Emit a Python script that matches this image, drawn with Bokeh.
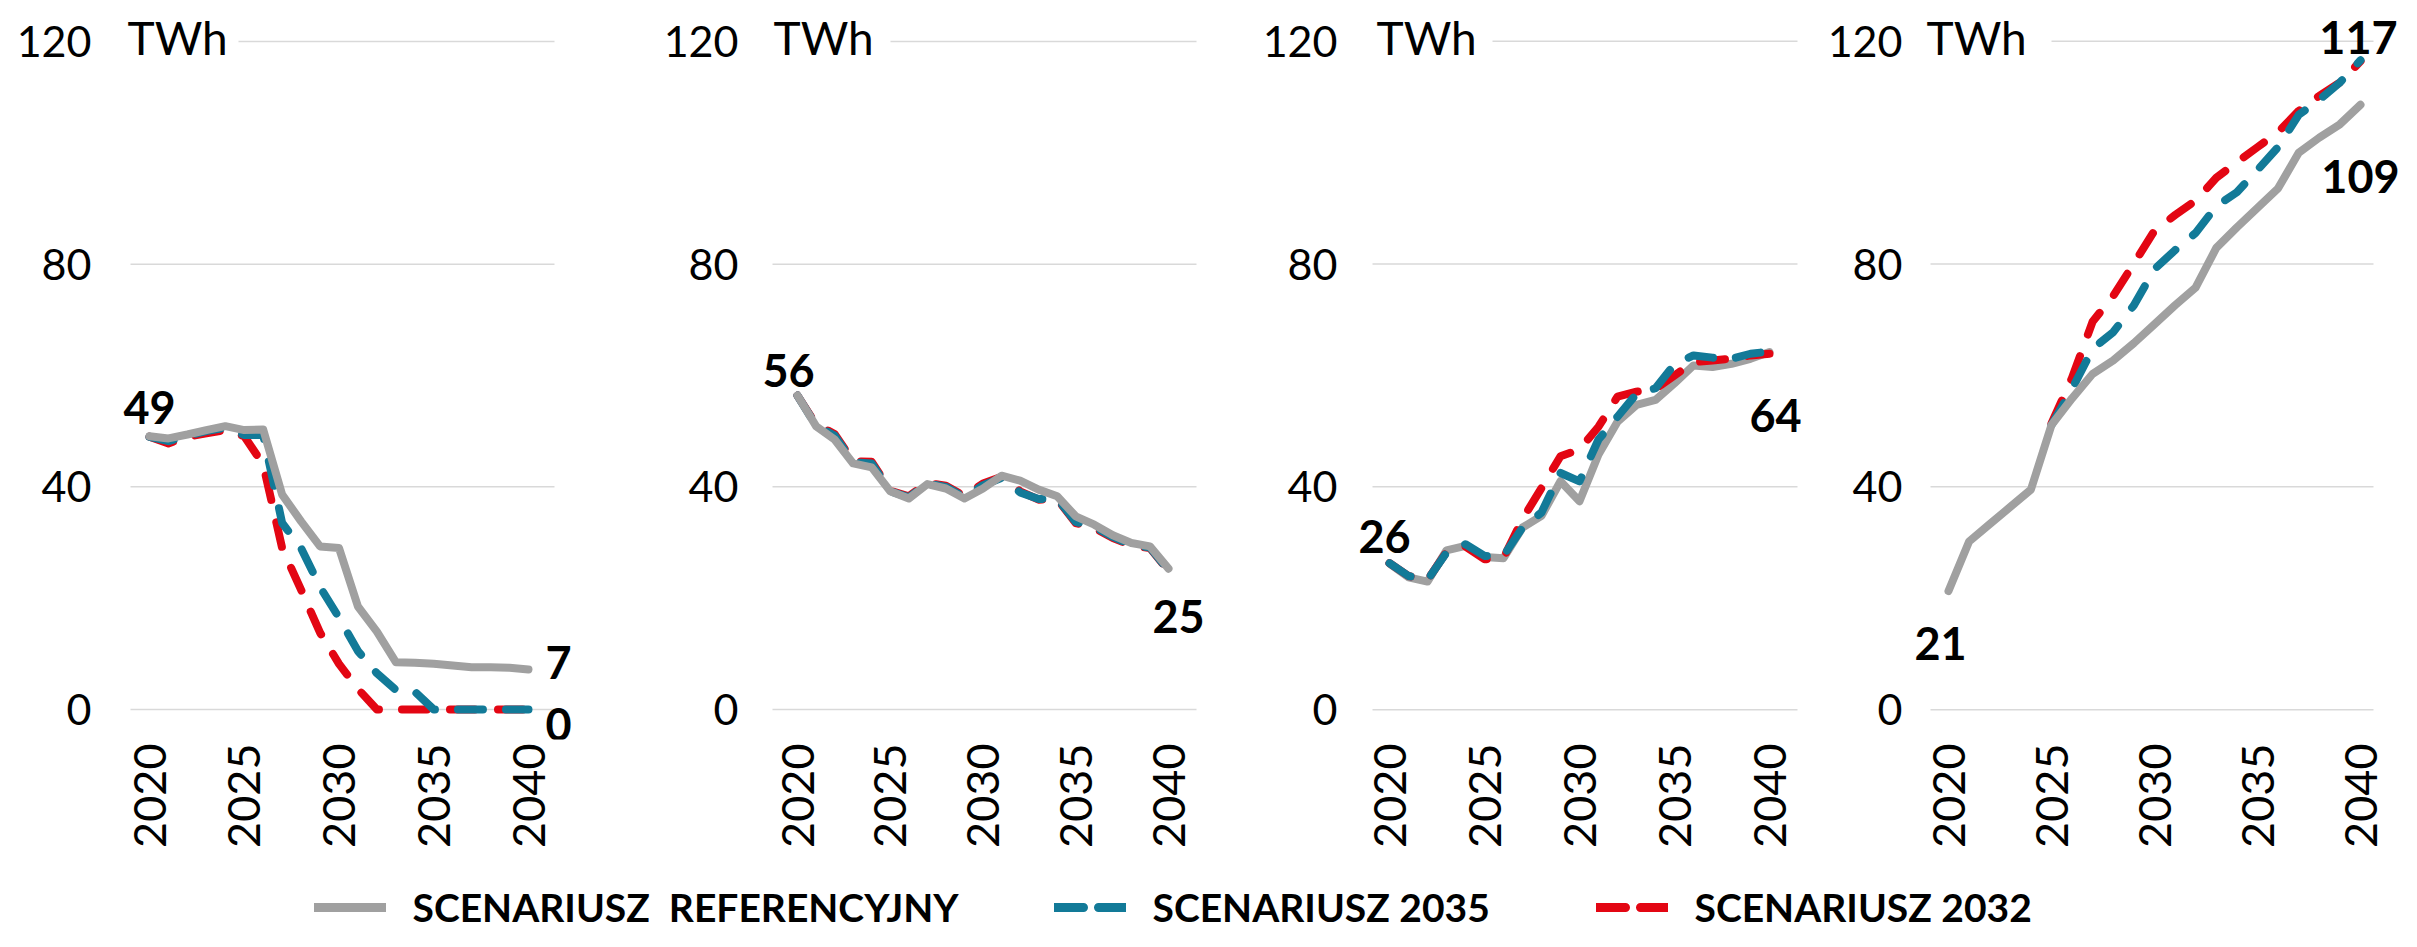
import math
from bokeh.plotting import figure
from bokeh.models import Range1d, FixedTicker, Label, Legend, LegendItem
from bokeh.layouts import column, row
from bokeh.embed import file_html
from bokeh.resources import INLINE

nan = float("nan")

years = list(range(2020, 2041))
x_ticks = [2020, 2025, 2030, 2035, 2040]
y_ticks = [0, 40, 80, 120]
unit = "TWh"
series_names = ["SCENARIUSZ  REFERENCYJNY", "SCENARIUSZ 2035", "SCENARIUSZ 2032"]

# panel 1
ref1 = [49.1, 48.7, 49.4, 50.2, 50.9, 50.2, 50.3, 38.6, 33.8, 29.3, 29.0, 18.5, 14.0, 8.5, 8.4, 8.2, 7.9, 7.6, 7.6, 7.5, 7.2]
s35_1 = [49.0, 48.2, 49.2, 50.0, 50.6, 49.3, 49.3, 33.5, 29.0, 22.0, 16.5, 10.5, 6.5, 3.5, 3.2, 0, 0, 0, 0, 0, 0]
s32_1 = [49.0, 47.8, 49.0, 49.6, 50.2, 49.1, 44.0, 29.0, 21.5, 13.8, 8.2, 3.7, 0, 0, 0, 0, 0, 0, 0, 0, 0]
# panel 2
ref2 = [56.4, 50.9, 48.5, 44.2, 43.5, 39.2, 37.9, 40.5, 39.7, 37.9, 39.7, 42.0, 41.1, 39.5, 38.3, 34.7, 33.2, 31.3, 29.9, 29.3, 25.3]
s35_2 = [56.4, 51.0, 49.2, 44.4, 44.2, 39.2, 38.1, 40.6, 40.0, 38.1, 40.3, 41.6, 39.0, 37.8, 37.9, 33.7, 32.8, 31.0, 29.6, 29.1, 25.0]
s32_2 = [56.4, 51.2, 49.5, 44.6, 44.5, 39.3, 38.3, 40.7, 40.2, 38.3, 40.6, 41.8, 39.2, 37.7, 37.8, 33.5, 32.6, 30.8, 29.5, 29.0, 24.9]
# panel 3
ref3 = [26.25, 23.75, 23.0, 28.6, 29.4, 27.4, 27.2, 32.7, 34.8, 41.0, 37.4, 45.8, 51.7, 54.7, 55.6, 58.6, 61.8, 61.5, 62.1, 63.0, 64.2]
s35_3 = [26.3, 24.0, 23.3, 28.2, 29.7, 27.6, 27.6, 32.7, 35.4, 42.5, 41.0, 48.5, 52.6, 56.7, 57.7, 62.0, 63.6, 63.2, 63.0, 63.9, 64.3]
s32_3 = [26.3, 24.0, 23.3, 28.3, 29.3, 27.0, 27.2, 34.2, 39.8, 45.5, 46.7, 50.8, 56.2, 57.1, 57.6, 60.0, 62.4, 62.7, 63.0, 63.6, 63.9]
# panel 4
ref4 = [21.3, 30.2, 33.3, 36.4, 39.5, 51.1, 55.9, 60.3, 62.7, 65.8, 69.2, 72.6, 75.8, 82.9, 86.6, 90.1, 93.6, 100.0, 102.7, 105.1, 108.6]
s35_4 = [nan, nan, nan, nan, nan, 51.1, 57.6, 64.8, 67.8, 72.6, 79.1, 82.5, 85.6, 90.4, 92.9, 96.9, 101.0, 106.8, 109.5, 112.6, 116.6]
s32_4 = [nan, nan, nan, nan, nan, 51.4, 59.6, 69.7, 74.3, 80.1, 86.0, 88.8, 91.4, 95.5, 98.3, 101.0, 103.7, 107.5, 110.2, 112.6, 116.4]

GRAY = "#A0A0A0"
TEAL = "#127A98"
RED = "#E30613"
GRID = "#D9D9D9"
FONT = "Lato"
DASH = "25 23"
LW = 8

PAGE = 8
FIG_H = 880
TOP = 8  # frame top (page px)


def make_panel(ref, s35, s32, fig_left, fig_right, FL, gL, gR, g120, a, b,
               top_px, zero_px, ylab_right, xlab_top, twh_left, labels, teal_on_top=False):
    kx = (b - a) / 20.0

    def xd(px):
        return 2020 + (px - a) / kx

    ky = (zero_px - top_px) / 120.0
    y1 = 120 + (top_px - TOP) / ky
    bottom_px = zero_px + 30
    y0 = -(bottom_px - zero_px) / ky
    w = fig_right - fig_left
    p = figure(width=w, height=FIG_H, output_backend="svg", toolbar_location=None,
               x_range=Range1d(xd(FL), xd(fig_right)), y_range=Range1d(y0, y1),
               min_border_left=FL - fig_left, min_border_right=0,
               min_border_top=TOP - PAGE, min_border_bottom=(PAGE + FIG_H) - bottom_px)
    p.outline_line_color = None
    p.background_fill_color = "white"
    p.border_fill_color = "white"
    p.xgrid.visible = False
    p.ygrid.visible = False

    # horizontal gridlines limited to the plot area
    gx0 = [xd(g120) if t == 120 else xd(gL) for t in y_ticks]
    gx1 = [xd(gR) for t in y_ticks]
    p.segment(x0=gx0, x1=gx1, y0=y_ticks, y1=y_ticks, line_color=GRID, line_width=1.5,
              level="underlay")

    p.xaxis.ticker = FixedTicker(ticks=x_ticks)
    p.yaxis.ticker = FixedTicker(ticks=y_ticks)
    for ax in (p.xaxis[0], p.yaxis[0]):
        ax.axis_line_color = None
        ax.major_tick_line_color = None
        ax.minor_tick_line_color = None
        ax.major_tick_out = 0
        ax.major_tick_in = 0
        ax.major_label_text_font = FONT
        ax.major_label_text_color = "#000000"
    p.yaxis.major_label_text_font_size = "43px"
    p.xaxis.major_label_text_font_size = "45px"
    p.xaxis.major_label_orientation = math.pi / 2
    p.xaxis.major_label_standoff = max(xlab_top - bottom_px, 0)
    p.yaxis.major_label_standoff = FL - ylab_right

    def gray():
        p.line(years, ref, line_color=GRAY, line_width=LW, line_join="round", line_cap="round")

    def red():
        p.line(years, s32, line_color=RED, line_width=LW, line_dash=DASH,
               line_join="round", line_cap="round")

    def teal():
        p.line(years, s35, line_color=TEAL, line_width=LW, line_dash=DASH,
               line_join="round", line_cap="round")

    if teal_on_top:
        gray(); red(); teal()
    else:
        red(); teal(); gray()

    p.add_layout(Label(x=xd(twh_left), y=120, text=unit, y_offset=4,
                       text_align="left", text_baseline="middle",
                       text_font=FONT, text_font_size="46px", text_color="#000000"))

    for (series, idx, dx, dy) in labels:
        p.add_layout(Label(x=years[idx], y=series[idx], text=str(round(series[idx])),
                           x_offset=dx, y_offset=dy, text_align="center",
                           text_baseline="alphabetic", text_font=FONT,
                           text_font_style="bold", text_font_size="45px",
                           text_color="#000000"))
    return p


p1 = make_panel(ref1, s35_1, s32_1, 8, 620, 126, 138, 562, 246, 157, 536, 49, 717, 99, 751, 135,
                [(ref1, 0, 0, 29), (ref1, -1, 30, 7), (s35_1, -1, 30, -15)])
p2 = make_panel(ref2, s35_2, s32_2, 620, 1240, 765, 780, 1204, 898, 805, 1176, 49, 717, 746, 751, 781,
                [(ref2, 0, -9, 25), (ref2, -1, 10, -48)])
p3 = make_panel(ref3, s35_3, s32_3, 1240, 1820, 1362, 1380, 1805, 1500, 1397, 1777, 49, 721, 1345, 755, 1384,
                [(ref3, 0, -5, 27), (ref3, -1, 6, -63)], teal_on_top=True)
p4 = make_panel(ref4, s35_4, s32_4, 1820, 2409, 1920, 1938, 2381, 2059, 1956, 2368, 49, 721, 1910, 755, 1934,
                [(ref4, 0, -8, -52), (s35_4, -1, -2, 23), (ref4, -1, 0, -72)])

# legend strip
LEG_H = 51
lf = figure(width=2401, height=LEG_H, output_backend="svg", toolbar_location=None,
            x_range=Range1d(0, 1), y_range=Range1d(0, 1), min_border=0,
            x_axis_location=None, y_axis_location=None)
lf.outline_line_color = None
lf.xgrid.visible = False
lf.ygrid.visible = False
# renderers used only for the legend samples (kept outside the visible range)
r_ref = lf.line([5, 6], [5, 6], line_color=GRAY, line_width=9, line_cap="round")
r_35 = lf.line([5, 6], [5, 6], line_color=TEAL, line_width=9, line_dash="29 15", line_cap="round")
r_32 = lf.line([5, 6], [5, 6], line_color=RED, line_width=9, line_dash="29 15", line_cap="round")

for name, r, lx in zip(series_names, [r_ref, r_35, r_32], [313.5, 1053.5, 1595.5]):
    lg = Legend(items=[LegendItem(label=name, renderers=[r])], location=(lx, 1),
                orientation="horizontal", glyph_width=72, glyph_height=46, label_height=46,
                label_standoff=27, padding=0, margin=0, spacing=0,
                border_line_color=None, background_fill_alpha=0,
                label_text_font=FONT, label_text_font_style="bold",
                label_text_font_size="39px", label_text_color="#000000")
    lf.add_layout(lg)

layout = column(row(p1, p2, p3, p4), lf)
open("out.html", "w").write(file_html(layout, INLINE))
